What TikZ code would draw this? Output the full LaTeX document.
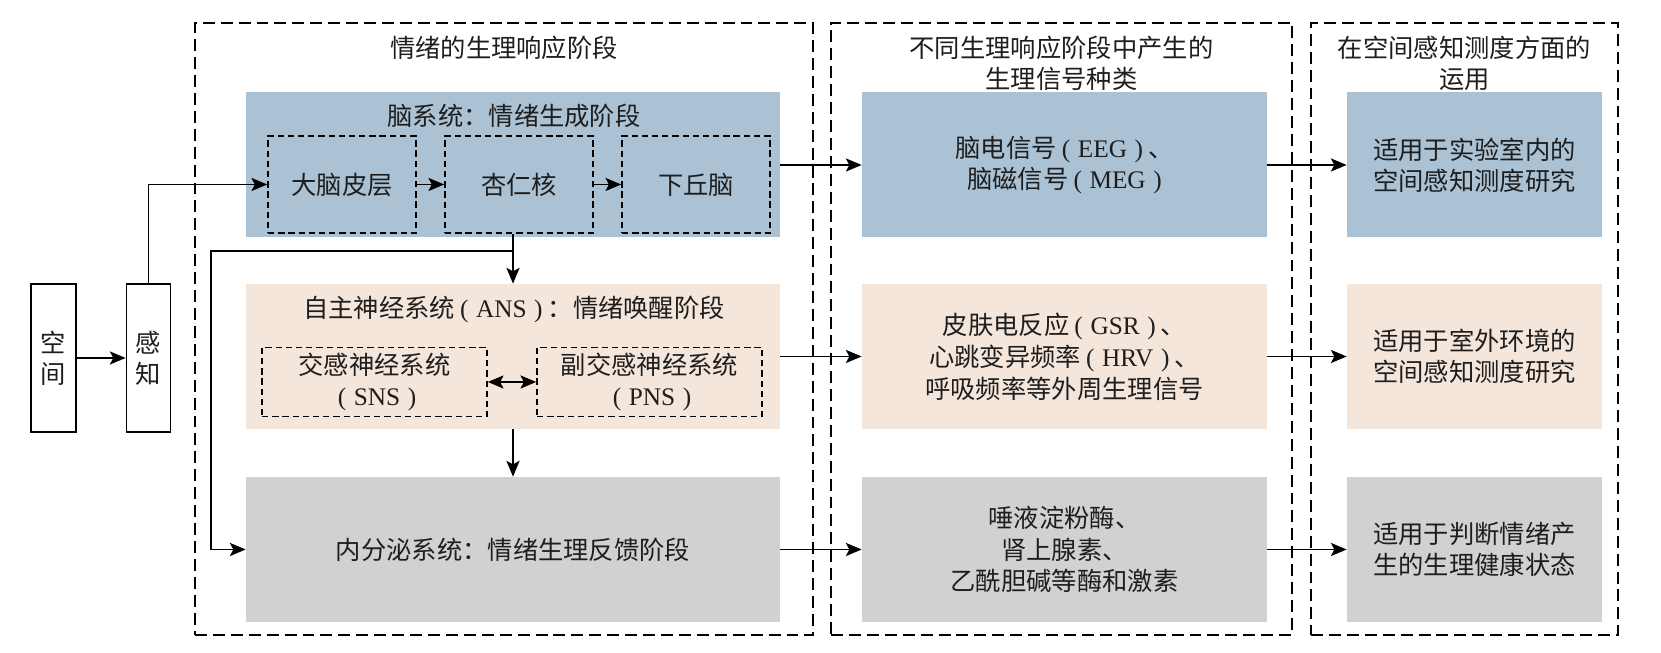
\documentclass[tikz,border=0pt]{standalone}
\usepackage{fontspec}
\setmainfont{Noto Sans CJK SC}
\newfontfamily\latinfont{Liberation Serif}
\newcommand{\en}[1]{{\latinfont #1}}
\newcommand{\abbr}[1]{\hspace{0.2em}\en{(\hspace{0.3em}#1\hspace{0.3em})}\hspace{0.2em}}
\usetikzlibrary{arrows.meta,positioning}
\definecolor{braincolor}{RGB}{171,194,213}
\definecolor{anscolor}{RGB}{244,230,219}
\definecolor{endocolor}{RGB}{208,209,211}
\definecolor{textcolor}{RGB}{30,30,30}

\begin{document}
\begin{tikzpicture}[
  font=\fontsize{14.4}{17.5}\selectfont,
  text=textcolor,
  >={Stealth[length=9pt,width=7.5pt,inset=2pt]},
  framebox/.style={draw, line width=1.1pt, dash pattern=on 6.8pt off 3.4pt},
  subbox/.style={draw, line width=0.9pt, dash pattern=on 3.6pt off 2.2pt, minimum height=1.94cm, minimum width=2.96cm},
  pairbox/.style={draw, line width=0.9pt, dash pattern=on 3.6pt off 2.2pt, minimum height=1.32cm, minimum width=4.5cm, align=center},
  vbox/.style={draw, line width=1pt, minimum height=2.96cm, align=center},
  stagebox/.style={minimum width=10.68cm, minimum height=2.9cm},
  signalbox/.style={minimum width=8.1cm, minimum height=2.9cm, align=center},
  usebox/.style={minimum width=5.1cm, minimum height=2.9cm, align=center},
  arr/.style={->, line width=0.75pt},
]
  \useasboundingbox (0,0) rectangle (33.22,13.06);

  % Outer dashed frames
  \node[framebox, minimum width=12.36cm, minimum height=12.24cm] (frameA) at (10.08,6.48) {};
  \node[framebox, minimum width=9.22cm, minimum height=12.24cm] (frameB) at (21.23,6.48) {};
  \node[framebox, minimum width=6.14cm, minimum height=12.24cm] (frameC) at (29.29,6.48) {};

  % Frame titles
  \node (titleA) at (10.08,12.10) {情绪的生理响应阶段};
  \node[align=center] (titleB) at (21.23,11.79) {不同生理响应阶段中产生的\\生理信号种类};
  \node[align=center] (titleC) at (29.29,11.79) {在空间感知测度方面的\\运用};

  % Space and perception
  \node[vbox, minimum width=0.9cm] (kj) at (1.07,5.90) {空\\间};
  \node[vbox, minimum width=0.88cm] (gz) at (2.97,5.90) {感\\知};

  % Stage boxes
  \node[stagebox, fill=braincolor] (brain) at (10.26,9.76) {};
  \node[stagebox, fill=anscolor] (ans) at (10.26,5.93) {};
  \node[stagebox, fill=endocolor] (endo) at (10.26,2.07) {内分泌系统：情绪生理反馈阶段};

  \node (braintitle) at (10.28,10.74) {脑系统：情绪生成阶段};
  \node[subbox] (dnpc) at (6.84,9.37) {大脑皮层};
  \node[subbox] (xrh) at (10.38,9.37) {杏仁核};
  \node[subbox] (xqn) at (13.92,9.37) {下丘脑};

  \node (anstitle) at (10.28,6.86) {自主神经系统\abbr{ANS}：情绪唤醒阶段};
  \node[pairbox] (sns) at (7.49,5.42) {交感神经系统\\\abbr{SNS}};
  \node[pairbox] (pns) at (12.99,5.42) {副交感神经系统\\\abbr{PNS}};

  % Signal boxes
  \node[signalbox, fill=braincolor] (eeg) at (21.29,9.76) {脑电信号\abbr{EEG}、\\脑磁信号\abbr{MEG}};
  \node[signalbox, fill=anscolor, font=\fontsize{14.4}{18.2}\selectfont] (gsr) at (21.29,5.93) {皮肤电反应\abbr{GSR}、\\心跳变异频率\abbr{HRV}、\\呼吸频率等外周生理信号};
  \node[signalbox, fill=endocolor, font=\fontsize{14.4}{17.8}\selectfont] (hormone) at (21.29,2.07) {唾液淀粉酶、\\肾上腺素、\\乙酰胆碱等酶和激素};

  % Application boxes
  \node[usebox, fill=braincolor] (lab) at (29.49,9.76) {适用于实验室内的\\空间感知测度研究};
  \node[usebox, fill=anscolor] (outdoor) at (29.49,5.93) {适用于室外环境的\\空间感知测度研究};
  \node[usebox, fill=endocolor] (health) at (29.49,2.07) {适用于判断情绪产\\生的生理健康状态};

  % Connectors
  \draw[arr] (kj) -- (gz);
  \draw[arr] (gz.north) |- (dnpc.west);
  \draw[arr] (dnpc) -- (xrh);
  \draw[arr] (xrh) -- (xqn);
  \draw[arr] (xrh.south -| ans.north) -- (ans.north);
  \coordinate (split) at (10.26,8.04);
  \coordinate (loopx) at (4.22,8.04);
  \draw[arr] (split) -- (loopx) |- (endo.west);
  \draw[arr] (ans) -- (endo);
  \draw[<->, line width=0.75pt] (sns) -- (pns);

  \draw[arr] (brain) -- (eeg);
  \draw[arr] (ans) -- (gsr);
  \draw[arr] (endo) -- (hormone);
  \draw[arr] (eeg) -- (lab);
  \draw[arr] (gsr) -- (outdoor);
  \draw[arr] (hormone) -- (health);
\end{tikzpicture}
\end{document}
